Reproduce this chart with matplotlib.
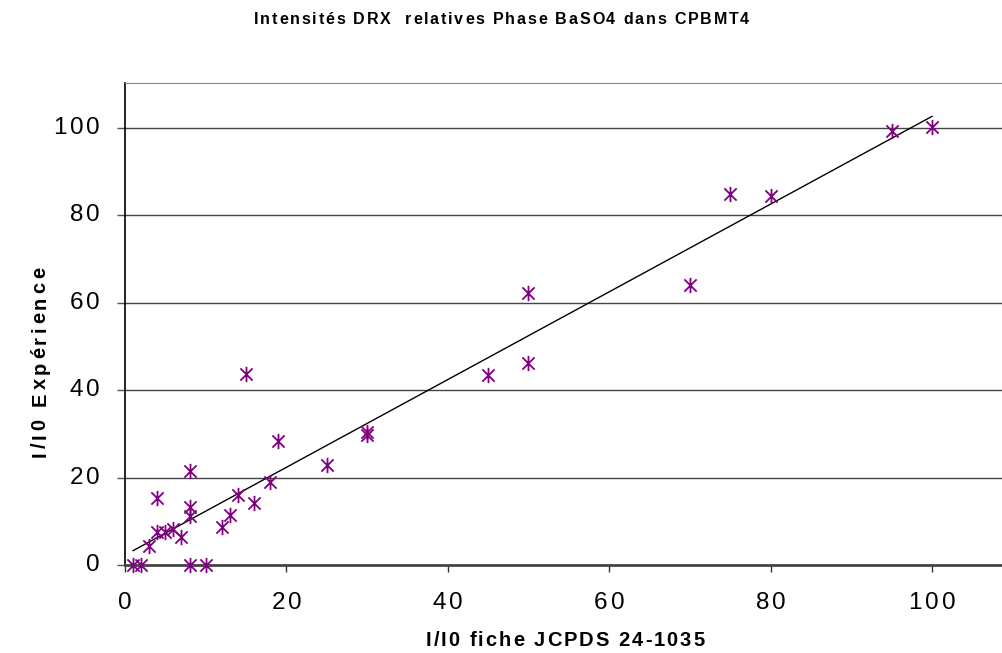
import matplotlib
matplotlib.use('Agg')

import matplotlib.pyplot as plt
import numpy as np
from matplotlib.path import Path
from matplotlib.font_manager import FontProperties
from matplotlib.transforms import offset_copy

plt.rcParams['font.family'] = ['Liberation Sans', 'DejaVu Sans']

# I/I0 fiche JCPDS vs I/I0 experience
x_jcpds = [100, 95, 80, 75, 70, 50, 50, 45, 30, 30, 25, 19, 18, 16, 15, 14, 13, 12,
           10, 8, 8, 8, 8, 7, 6, 5, 4, 4, 3, 2, 1]
y_exp = [100.2, 99.3, 84.4, 84.9, 64.1, 62.2, 46.2, 43.5, 30.5, 29.7, 22.9, 28.4, 19.1,
         14.3, 43.6, 16.1, 11.4, 8.6, 0, 21.6, 13.2, 11.2, 0, 6.3, 8.2, 7.6, 15.3, 7.6,
         4.4, 0, 0]

x_ticks = [0, 20, 40, 60, 80, 100]
y_ticks = [0, 20, 40, 60, 80, 100]

title = 'Intensités DRX  relatives Phase BaSO4 dans CPBMT4'
xlabel = 'I/I0 fiche JCPDS 24-1035'
ylabel = 'I/I0 Expérience'

DPI = 100

# excel style asterisk: vertical bar + X
star = Path([(0, -1), (0, 1), (-0.8, -0.8), (0.8, 0.8), (-0.8, 0.8), (0.8, -0.8)],
            [Path.MOVETO, Path.LINETO, Path.MOVETO, Path.LINETO, Path.MOVETO, Path.LINETO])

fig = plt.figure(figsize=(10.03, 6.53), dpi=DPI)
ax = fig.add_axes([125 / 1003, 1 - 565 / 653, 1 - 125 / 1003, (565 - 83) / 653])
renderer = fig.canvas.get_renderer()


def spaced_text(x, y, s, transform, size, spacing, ha='center', weight='normal',
                rotation=0, dx=0, dy=0):
    # excel draws its labels with extra letter spacing, so place char by char
    prop = FontProperties(family=['Liberation Sans', 'DejaVu Sans'], size=size, weight=weight)

    def adv(t):
        w0 = renderer.get_text_width_height_descent('|', prop, ismath=False)[0]
        return renderer.get_text_width_height_descent(t + '|', prop, ismath=False)[0] - w0

    total = adv(s) + spacing * (len(s) - 1)
    start = {'center': -total / 2, 'left': 0, 'right': -total}[ha]
    for i, ch in enumerate(s):
        off = start + adv(s[:i]) + i * spacing
        ox, oy = (0, off) if rotation == 90 else (off, 0)
        tr = offset_copy(transform, fig=fig, x=(ox + dx) * 72 / DPI,
                         y=(oy + dy) * 72 / DPI, units='points')
        fig.text(x, y, ch, transform=tr, ha='left', va='center', rotation=rotation,
                 rotation_mode='anchor', fontproperties=prop)


ax.set_xlim(0, 108.8)
ax.set_ylim(0, 110.3)
ax.set_xticks(x_ticks)
ax.set_yticks(y_ticks)
ax.set_xticklabels([])
ax.set_yticklabels([])

for yv in y_ticks[1:]:
    ax.axhline(yv, color='#444444', lw=1.0, zorder=1)

# linear trendline
coef = np.polyfit(x_jcpds, y_exp, 1)
xs = np.array([min(x_jcpds), max(x_jcpds)])
ax.plot(xs, np.polyval(coef, xs), color='black', lw=1.0, zorder=2)

ax.plot(x_jcpds, y_exp, linestyle='none', marker=star, markersize=11,
        markeredgecolor='#800080', markerfacecolor='none', markeredgewidth=1.3,
        zorder=3, clip_on=False)

ax.spines['right'].set_visible(False)
ax.spines['top'].set_color('#888888')
ax.spines['left'].set_color('black')
ax.spines['left'].set_linewidth(1.2)
ax.spines['bottom'].set_color('#444444')
ax.spines['bottom'].set_linewidth(2)

ax.tick_params(axis='x', direction='out', length=5, width=1, color='#333333')
ax.tick_params(axis='y', direction='out', length=6, width=1, color='#555555')

# tick labels
for xv in x_ticks:
    spaced_text(xv, 0, str(xv), ax.transData, 17.5, 3.0, ha='center', dy=-38)
for yv in y_ticks:
    spaced_text(0, yv, str(yv), ax.transData, 17.5, 3.0, ha='right', dx=-25)

# axis labels and title
spaced_text(565 / 1003, 1 - 641 / 653, xlabel, fig.transFigure, 14.5, 2.0,
            ha='center', weight='bold')
spaced_text(40 / 1003, 1 - 362 / 653, ylabel, fig.transFigure, 14.5, 3.5,
            ha='center', weight='bold', rotation=90)
spaced_text(0.5, 1 - 20 / 653, title, fig.transFigure, 11.5, 1.8,
            ha='center', weight='bold')

plt.savefig('out.png', dpi=DPI)
